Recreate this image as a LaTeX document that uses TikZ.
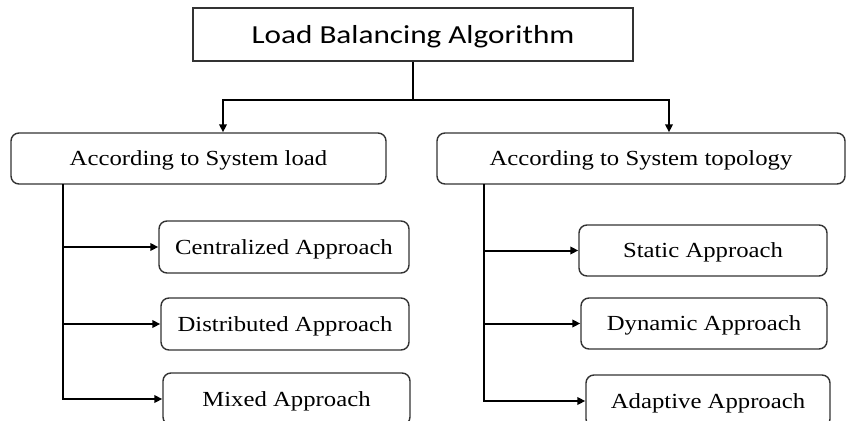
\documentclass[tikz,border=0pt]{standalone}
\usepackage{fontspec}
\setmainfont{Liberation Serif}[FakeStretch=1.15]
\newfontfamily\headfont{Carlito}[FakeStretch=1.2]
\usetikzlibrary{arrows.meta}
\definecolor{edge}{HTML}{333333}
\tikzset{
  box/.style={draw=edge, line width=1.4pt, rounded corners=8pt, fill=white,
    inner sep=0pt, text height=16pt, text depth=2pt,
    font=\fontsize{21.5}{24}\selectfont},
  headbox/.style={draw=edge, line width=1.4pt, fill=white, inner sep=0pt,
    text height=20pt, text depth=2.4pt,
    font=\headfont\fontsize{26}{30}\selectfont},
  conn/.style={line width=2pt, black, -{Triangle[length=8pt,width=7.5pt]}},
  trunk/.style={line width=2pt, black}
}
\begin{document}
\begin{tikzpicture}[x=1pt,y=-1pt]
\useasboundingbox (0,0) rectangle (848,420);
\clip (0,0) rectangle (848,420);
\fill[white] (0,0) rectangle (848,420);

% header
\node[headbox, minimum width=440pt, minimum height=53pt] (top) at (413,34.5) {Load Balancing Algorithm};

% two families
\node[box, minimum width=375pt, minimum height=51pt] (sysload) at (198.5,158.5) {According to System load};
\node[box, minimum width=408pt, minimum height=51pt] (systopo) at (641,158.5) {According to System topology};

% load-based approaches
\node[box, minimum width=250pt, minimum height=52pt] (central) at (284,247) {Centralized Approach};
\node[box, minimum width=248pt, minimum height=52pt] (distrib) at (285,324) {Distributed Approach};
\node[box, minimum width=247pt, minimum height=52pt] (mixed) at (286.5,399) {Mixed Approach};

% topology-based approaches
\node[box, minimum width=248pt, minimum height=51pt] (static) at (703,250.5) {Static Approach};
\node[box, minimum width=246pt, minimum height=51pt] (dynamic) at (704,323.5) {Dynamic Approach};
\node[box, minimum width=244pt, minimum height=52pt] (adaptive) at (708,401) {Adaptive Approach};

% header split
\coordinate (split) at (top.south |- 0,100);
\coordinate (lj) at (223,100);
\coordinate (rj) at (669,100);
\draw[trunk] (top.south) -- (split);
\draw[conn] (split) -| (lj |- sysload.north);
\draw[conn] (split) -| (rj |- systopo.north);

% left trunk
\coordinate (lt) at (63,184);
\draw[conn] (lt) |- (mixed.west);
\draw[conn] (lt |- central.west) -- (central.west);
\draw[conn] (lt |- distrib.west) -- (distrib.west);

% right trunk
\coordinate (rt) at (484,184);
\draw[conn] (rt) |- (adaptive.west);
\draw[conn] (rt |- static.west) -- (static.west);
\draw[conn] (rt |- dynamic.west) -- (dynamic.west);
\end{tikzpicture}
\end{document}
